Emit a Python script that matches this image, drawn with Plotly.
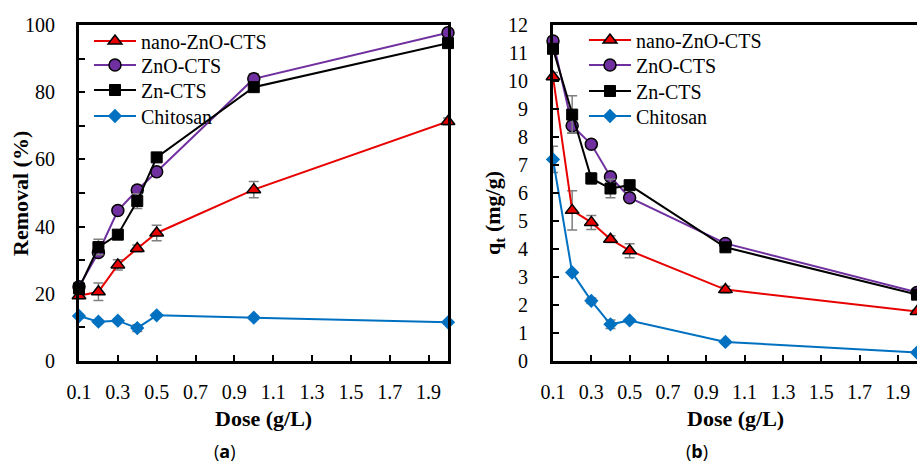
import plotly.graph_objects as go

dose = [0.1, 0.2, 0.3, 0.4, 0.5, 1.0, 2.0]
series_names = ["nano-ZnO-CTS", "ZnO-CTS", "Zn-CTS", "Chitosan"]

# Panel (a): Removal (%)
rem_nano = [19.4, 20.6, 28.6, 33.5, 38.1, 51.0, 71.3]
rem_nano_err = [0.8, 2.6, 1.5, 1.0, 2.3, 2.4, 1.0]
rem_zno = [22.1, 32.3, 44.8, 50.9, 56.3, 84.0, 97.7]
rem_zno_err = [0.8, 1.0, 1.0, 1.0, 1.0, 1.5, 0.6]
rem_zn = [21.6, 33.9, 37.6, 47.6, 60.6, 81.5, 94.6]
rem_zn_err = [1.0, 2.3, 1.0, 2.2, 1.0, 1.0, 0.6]
rem_chi = [13.4, 11.7, 12.0, 9.8, 13.6, 12.9, 11.5]
rem_chi_err = [0.5, 0.5, 0.5, 1.0, 0.5, 0.5, 0.5]

# Panel (b): q_t (mg/g)
q_nano = [10.15, 5.38, 4.95, 4.35, 3.94, 2.55, 1.77]
q_nano_err = [0.15, 0.70, 0.25, 0.12, 0.25, 0.12, 0.05]
q_zno = [11.43, 8.40, 7.74, 6.58, 5.83, 4.20, 2.45]
q_zno_err = [0.1, 0.25, 0.1, 0.1, 0.1, 0.08, 0.05]
q_zn = [11.15, 8.80, 6.52, 6.16, 6.28, 4.06, 2.37]
q_zn_err = [0.1, 0.67, 0.20, 0.33, 0.1, 0.05, 0.05]
q_chi = [7.20, 3.16, 2.15, 1.31, 1.45, 0.68, 0.30]
q_chi_err = [0.47, 0.05, 0.1, 0.15, 0.05, 0.05, 0.05]

x_ticks = [0.1, 0.3, 0.5, 0.7, 0.9, 1.1, 1.3, 1.5, 1.7, 1.9]
x_ticklabels = ["0.1", "0.3", "0.5", "0.7", "0.9", "1.1", "1.3", "1.5", "1.7", "1.9"]

FONT = "Liberation Serif"
colors = ["#e80000", "#7030a0", "#000000", "#0070c0"]
markers = [
    dict(symbol="triangle-up", size=12, color="#e80000", line=dict(color="black", width=1.5)),
    dict(symbol="circle", size=12, color="#7030a0", line=dict(color="black", width=1.5)),
    dict(symbol="square", size=11, color="black", line=dict(color="black", width=1)),
    dict(symbol="diamond", size=11, color="#0070c0", line=dict(color="#0070c0", width=0)),
]

W, H = 917, 462
ML, MR, MT, MB = 0, 0, 25, 101
PH = H - MT - MB

def px(xp):
    return xp / W

def py(yp):
    return (H - MB - yp) / PH

fig = go.Figure()

# legend rows (pixel centres) for each panel
left_rows = [41, 65, 90, 116]
right_rows = [40, 65, 91, 116]

panels = [
    ("x", "y", 1, [rem_nano, rem_zno, rem_zn, rem_chi],
     [rem_nano_err, rem_zno_err, rem_zn_err, rem_chi_err]),
    ("x2", "y2", 5, [q_nano, q_zno, q_zn, q_chi],
     [q_nano_err, q_zno_err, q_zn_err, q_chi_err]),
]

for xa, ya, leg0, vals, errs in panels:
    for i, name in enumerate(series_names):
        k = leg0 + i
        legname = "legend" if k == 1 else f"legend{k}"
        fig.add_trace(go.Scatter(
            x=dose, y=vals[i], name=name, mode="lines+markers",
            xaxis=xa, yaxis=ya, legend=legname,
            line=dict(color=colors[i], width=2),
            marker=markers[i],
            error_y=dict(type="data", array=errs[i], visible=True,
                         color="#7f7f7f", thickness=1.5, width=5),
            cliponaxis=False,
        ))

axis_common = dict(
    showline=True, linewidth=3, linecolor="black", ticks="inside",
    ticklen=6, tickwidth=2, tickcolor="black", showgrid=False, zeroline=False,
    automargin=False,
    tickfont=dict(family=FONT, size=20, color="black"),
)

layout = dict(
    template="none",
    width=W, height=H,
    margin=dict(l=ML, r=MR, t=MT, b=MB, autoexpand=False),
    paper_bgcolor="white", plot_bgcolor="white",
    font=dict(family=FONT, color="black"),
    showlegend=True,
    xaxis=dict(domain=[79 / W, 448 / W], range=[0.1, 2.0], tickvals=x_ticks,
               ticktext=x_ticklabels, mirror=True, anchor="y",
               ticklabelstandoff=11, **axis_common),
    yaxis=dict(range=[0, 100], tickvals=[0, 20, 40, 60, 80, 100], mirror=True,
               anchor="x", ticklabelstandoff=17,
               minor=dict(tickvals=[10, 30, 50, 70, 90], ticks="inside", ticklen=6,
                          tickwidth=2, tickcolor="black"),
               **axis_common),
    xaxis2=dict(domain=[553 / W, 1.0], range=[0.1, 2.0], tickvals=x_ticks,
                ticktext=x_ticklabels, mirror=True, anchor="y2",
                ticklabelstandoff=11, **axis_common),
    yaxis2=dict(range=[0, 12], dtick=1, tick0=0, mirror=False, anchor="x2",
                ticklabelstandoff=18, **axis_common),
)

for i in range(4):
    for leg0, xleft, rows in [(1, 89, left_rows), (5, 584, right_rows)]:
        k = leg0 + i
        legname = "legend" if k == 1 else f"legend{k}"
        layout[legname] = dict(
            x=px(xleft), y=py(rows[i]), xanchor="left", yanchor="middle",
            bgcolor="rgba(0,0,0,0)", itemwidth=42, borderwidth=0,
            font=dict(family=FONT, size=20, color="black"),
        )

fig.update_layout(**layout)

annots = [
    dict(text="<b>Dose (g/L)</b>", x=px(263), y=py(418), size=22, angle=0, fam=FONT),
    dict(text="<b>Dose (g/L)</b>", x=px(735), y=py(418), size=22, angle=0, fam=FONT),
    dict(text="<b>Removal (%)</b>", x=px(20), y=py(194), size=22, angle=-90, fam=FONT),
    dict(text="<b>q<sub>t</sub> (mg/g)</b>", x=px(494), y=py(213), size=22, angle=-90, fam=FONT),
    dict(text="(<b>a</b>)", x=px(225), y=py(451), size=18, angle=0, fam="Open Sans"),
    dict(text="(<b>b</b>)", x=px(697), y=py(451), size=18, angle=0, fam="Open Sans"),
]
for a in annots:
    fig.add_annotation(text=a["text"], x=a["x"], y=a["y"], xref="paper", yref="paper",
                       xanchor="center", yanchor="middle", showarrow=False,
                       textangle=a["angle"],
                       font=dict(family=a["fam"], size=a["size"], color="black"))

fig.write_html("out.html")
